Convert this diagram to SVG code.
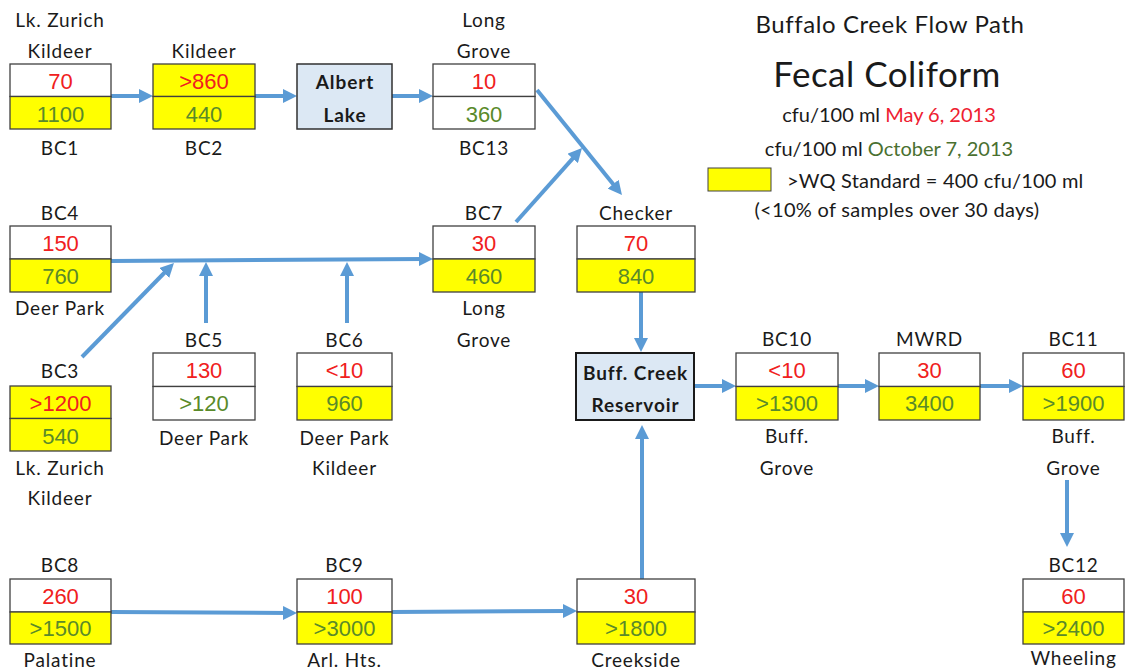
<svg xmlns="http://www.w3.org/2000/svg" width="1146" height="672" viewBox="0 0 1146 672">
<style>
.lbl{font-family:Lato,"Liberation Sans",sans-serif;font-size:19px;fill:#1a1a1a;text-anchor:middle;letter-spacing:0.8px}
.num{font-family:"Liberation Sans",Arial,sans-serif;font-size:22px;text-anchor:middle}
.r{fill:#f02020}
.g{fill:#5a8a2a}
.w{fill:#ffffff;stroke:#404040;stroke-width:1.3}
.y{fill:#ffff00;stroke:#404040;stroke-width:1.3}
.lake{fill:#dce8f4;stroke:#303030;stroke-width:1.5}
.bold{font-family:Lato,"Liberation Sans",sans-serif;font-size:19px;font-weight:bold;fill:#1a1a1a;text-anchor:middle;letter-spacing:0.9px}
.c{fill:none;stroke:#5b9bd5;stroke-width:4;marker-end:url(#ah)}
</style>
<defs>
<marker id="ah" viewBox="0 0 10 10" refX="4" refY="5" markerWidth="14" markerHeight="14" markerUnits="userSpaceOnUse" orient="auto">
<path d="M0,0 L10,5 L0,10 z" fill="#5b9bd5"/>
</marker>
</defs>
<rect width="1146" height="672" fill="#ffffff"/>

<g id="connectors">
<line class="c" x1="111" y1="96" x2="144.6" y2="96"/>
<line class="c" x1="255" y1="96" x2="288.6" y2="96"/>
<line class="c" x1="392" y1="96" x2="424.6" y2="96"/>
<line class="c" x1="537" y1="90" x2="616.7" y2="188.5"/>
<line class="c" x1="516" y1="222" x2="576.4" y2="154.3"/>
<line class="c" x1="111" y1="261" x2="424.6" y2="259"/>
<line class="c" x1="82" y1="357" x2="168.1" y2="269"/>
<line class="c" x1="206" y1="323" x2="206" y2="270.4"/>
<line class="c" x1="347" y1="323" x2="347" y2="270.4"/>
<line class="c" x1="641" y1="292" x2="641" y2="343.6"/>
<line class="c" x1="642" y1="579" x2="642" y2="433.4"/>
<line class="c" x1="694" y1="386" x2="727.6" y2="386"/>
<line class="c" x1="838" y1="386" x2="870.6" y2="386"/>
<line class="c" x1="980" y1="386" x2="1014.6" y2="386"/>
<line class="c" x1="1067" y1="480" x2="1067" y2="538.6"/>
<line class="c" x1="111" y1="612" x2="288.6" y2="613"/>
<line class="c" x1="392" y1="612" x2="568.6" y2="611"/>
</g>

<g id="BC1">
<text class="lbl" x="60" y="27">Lk. Zurich</text>
<text class="lbl" x="60" y="58">Kildeer</text>
<rect class="w" x="10" y="64" width="101" height="32.5"/>
<rect class="y" x="10" y="96.5" width="101" height="32.5"/>
<text class="num r" x="60.5" y="89">70</text>
<text class="num g" x="60.5" y="122">1100</text>
<text class="lbl" x="60" y="155">BC1</text>
</g>

<g id="BC2">
<text class="lbl" x="204" y="58">Kildeer</text>
<rect class="y" x="153" y="64" width="102" height="32.5"/>
<rect class="y" x="153" y="96.5" width="102" height="32.5"/>
<text class="num r" x="204" y="89">&gt;860</text>
<text class="num g" x="204" y="122">440</text>
<text class="lbl" x="204" y="155">BC2</text>
</g>

<g id="AlbertLake">
<rect class="lake" x="297" y="64" width="95" height="65"/>
<text class="bold" x="345" y="89">Albert</text>
<text class="bold" x="345" y="122">Lake</text>
</g>

<g id="BC13">
<text class="lbl" x="484" y="27">Long</text>
<text class="lbl" x="484" y="58">Grove</text>
<rect class="w" x="433" y="64" width="102" height="32.5"/>
<rect class="w" x="433" y="96.5" width="102" height="32.5"/>
<text class="num r" x="484" y="89">10</text>
<text class="num g" x="484" y="122">360</text>
<text class="lbl" x="484" y="155">BC13</text>
</g>

<g id="BC4">
<text class="lbl" x="60" y="220">BC4</text>
<rect class="w" x="10" y="226" width="101" height="33"/>
<rect class="y" x="10" y="259" width="101" height="33"/>
<text class="num r" x="60.5" y="251">150</text>
<text class="num g" x="60.5" y="284">760</text>
<text class="lbl" x="60" y="315">Deer Park</text>
</g>

<g id="BC7">
<text class="lbl" x="484" y="220">BC7</text>
<rect class="w" x="433" y="226" width="102" height="33"/>
<rect class="y" x="433" y="259" width="102" height="33"/>
<text class="num r" x="484" y="251">30</text>
<text class="num g" x="484" y="284">460</text>
<text class="lbl" x="484" y="315">Long</text>
<text class="lbl" x="484" y="347">Grove</text>
</g>

<g id="Checker">
<text class="lbl" x="636" y="220">Checker</text>
<rect class="w" x="577" y="226" width="118" height="33"/>
<rect class="y" x="577" y="259" width="118" height="33"/>
<text class="num r" x="636" y="251">70</text>
<text class="num g" x="636" y="284">840</text>
</g>

<g id="BC3">
<text class="lbl" x="60" y="378">BC3</text>
<rect class="y" x="10" y="386" width="101" height="32.5"/>
<rect class="y" x="10" y="418.5" width="101" height="32.5"/>
<text class="num r" x="60.5" y="411">&gt;1200</text>
<text class="num g" x="60.5" y="444">540</text>
<text class="lbl" x="60" y="475">Lk. Zurich</text>
<text class="lbl" x="60" y="505">Kildeer</text>
</g>

<g id="BC5">
<text class="lbl" x="204" y="347">BC5</text>
<rect class="w" x="153" y="353" width="102" height="33.5"/>
<rect class="w" x="153" y="386.5" width="102" height="33.5"/>
<text class="num r" x="204" y="378">130</text>
<text class="num g" x="204" y="411">&gt;120</text>
<text class="lbl" x="204" y="445">Deer Park</text>
</g>

<g id="BC6">
<text class="lbl" x="344.5" y="347">BC6</text>
<rect class="w" x="297" y="353" width="95" height="33.5"/>
<rect class="y" x="297" y="386.5" width="95" height="33.5"/>
<text class="num r" x="344.5" y="378">&lt;10</text>
<text class="num g" x="344.5" y="411">960</text>
<text class="lbl" x="344.5" y="445">Deer Park</text>
<text class="lbl" x="344.5" y="475">Kildeer</text>
</g>

<g id="Reservoir">
<rect class="lake" x="576" y="353" width="118" height="67" style="stroke:#1a1a1a;stroke-width:2"/>
<text class="bold" x="635.5" y="380">Buff. Creek</text>
<text class="bold" x="635.5" y="412">Reservoir</text>
</g>

<g id="BC10">
<text class="lbl" x="787" y="346">BC10</text>
<rect class="w" x="736" y="353" width="102" height="33.5"/>
<rect class="y" x="736" y="386.5" width="102" height="33.5"/>
<text class="num r" x="787" y="378">&lt;10</text>
<text class="num g" x="787" y="411">&gt;1300</text>
<text class="lbl" x="787" y="443">Buff.</text>
<text class="lbl" x="787" y="475">Grove</text>
</g>

<g id="MWRD">
<text class="lbl" x="929.5" y="346">MWRD</text>
<rect class="w" x="879" y="353" width="101" height="33.5"/>
<rect class="y" x="879" y="386.5" width="101" height="33.5"/>
<text class="num r" x="929.5" y="378">30</text>
<text class="num g" x="929.5" y="411">3400</text>
</g>

<g id="BC11">
<text class="lbl" x="1073.5" y="346">BC11</text>
<rect class="w" x="1023" y="353" width="101" height="33.5"/>
<rect class="y" x="1023" y="386.5" width="101" height="33.5"/>
<text class="num r" x="1073.5" y="378">60</text>
<text class="num g" x="1073.5" y="411">&gt;1900</text>
<text class="lbl" x="1073.5" y="443">Buff.</text>
<text class="lbl" x="1073.5" y="475">Grove</text>
</g>

<g id="BC8">
<text class="lbl" x="60" y="572">BC8</text>
<rect class="w" x="10" y="579" width="101" height="33"/>
<rect class="y" x="10" y="612" width="101" height="32"/>
<text class="num r" x="60.5" y="604">260</text>
<text class="num g" x="60.5" y="636">&gt;1500</text>
<text class="lbl" x="60" y="667">Palatine</text>
</g>

<g id="BC9">
<text class="lbl" x="344.5" y="572">BC9</text>
<rect class="w" x="297" y="579" width="95" height="33"/>
<rect class="y" x="297" y="612" width="95" height="32"/>
<text class="num r" x="344.5" y="604">100</text>
<text class="num g" x="344.5" y="636">&gt;3000</text>
<text class="lbl" x="344.5" y="667">Arl. Hts.</text>
</g>

<g id="Creekside">
<rect class="w" x="577" y="579" width="118" height="33"/>
<rect class="y" x="577" y="612" width="118" height="32"/>
<text class="num r" x="636" y="604">30</text>
<text class="num g" x="636" y="636">&gt;1800</text>
<text class="lbl" x="636" y="667">Creekside</text>
</g>

<g id="BC12">
<text class="lbl" x="1073.5" y="572">BC12</text>
<rect class="w" x="1023" y="579" width="101" height="33"/>
<rect class="y" x="1023" y="612" width="101" height="32"/>
<text class="num r" x="1073.5" y="604">60</text>
<text class="num g" x="1073.5" y="636">&gt;2400</text>
<text class="lbl" x="1073.5" y="665">Wheeling</text>
</g>

<g id="legend" font-family="Lato, 'Liberation Sans', sans-serif" fill="#1a1a1a">
<text x="890" y="33" font-size="24" text-anchor="middle" letter-spacing="0.6">Buffalo Creek Flow Path</text>
<text x="887" y="87" font-size="35" text-anchor="middle" letter-spacing="0.5">Fecal Coliform</text>
<text x="889" y="122" font-size="20" text-anchor="middle">cfu/100 ml <tspan fill="#ee2030">May 6, 2013</tspan></text>
<text x="889" y="156" font-size="20" text-anchor="middle">cfu/100 ml <tspan fill="#4a7030">October 7, 2013</tspan></text>
<rect x="708" y="168" width="63" height="23" fill="#ffff00" stroke="#404040" stroke-width="1"/>
<text x="787" y="188" font-size="20" letter-spacing="0.2">&gt;WQ Standard = 400 cfu/100 ml</text>
<text x="897" y="217" font-size="20" text-anchor="middle" letter-spacing="0.3">(&lt;10% of samples over 30 days)</text>
</g>
</svg>
